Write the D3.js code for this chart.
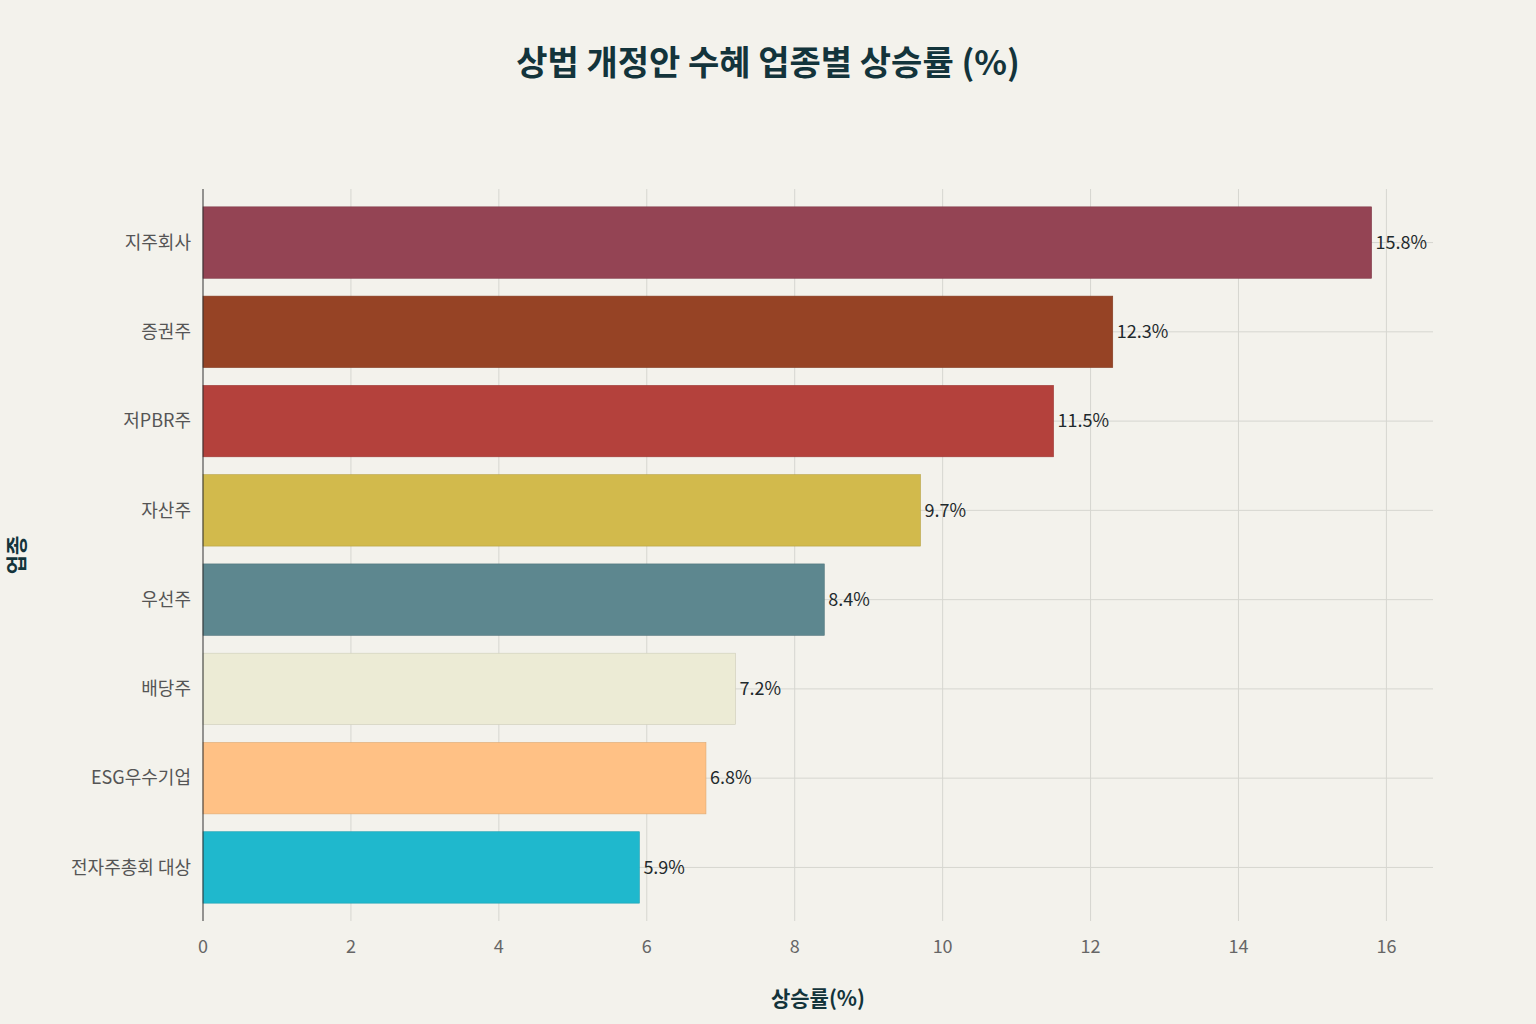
<!DOCTYPE html>
<html>
<head>
<meta charset="utf-8">
<script src="https://cdn.jsdelivr.net/npm/d3@7"></script>
<style>
  body { margin: 0; background: #f3f2ec; }
  text { font-family: "Noto Sans CJK KR", "Noto Sans", sans-serif; }
</style>
</head>
<body>
<script>
const width = 1536;
const height = 1024;

// data
const categories = ["지주회사", "증권주", "저PBR주", "자산주", "우선주", "배당주", "ESG우수기업", "전자주총회 대상"];
const values = [15.8, 12.3, 11.5, 9.7, 8.4, 7.2, 6.8, 5.9];
const colors = ["#944454", "#964325", "#b4413c", "#d2ba4c", "#5d878f", "#ecebd5", "#ffc185", "#1fb8cd"];
const xTicks = [0, 2, 4, 6, 8, 10, 12, 14, 16];

const data = categories.map((c, i) => ({ cat: c, value: values[i], color: colors[i] }));

const margin = { top: 189, right: 103, bottom: 103, left: 203 };

let svg = d3.select("body").append("svg")
  .attr("width", width)
  .attr("height", height);

svg.append("rect").attr("width", width).attr("height", height).attr("fill", "#f3f2ec");

let x = d3.scaleLinear()
  .domain([0, 16.63])
  .range([margin.left, width - margin.right]);

let y = d3.scaleBand()
  .domain(categories)
  .range([margin.top, height - margin.bottom])
  .padding(0.2);

// gridlines
svg.append("g").selectAll("line.v")
  .data(xTicks.slice(1))
  .join("line")
  .attr("x1", d => x(d)).attr("x2", d => x(d))
  .attr("y1", margin.top).attr("y2", height - margin.bottom)
  .attr("stroke", "#d6d6d0").attr("stroke-width", 1);

svg.append("g").selectAll("line.h")
  .data(categories)
  .join("line")
  .attr("x1", margin.left).attr("x2", width - margin.right)
  .attr("y1", d => y(d) + y.bandwidth() / 2).attr("y2", d => y(d) + y.bandwidth() / 2)
  .attr("stroke", "#d6d6d0").attr("stroke-width", 1);

// bars
svg.append("g").selectAll("rect")
  .data(data)
  .join("rect")
  .attr("x", x(0))
  .attr("y", d => y(d.cat))
  .attr("width", d => x(d.value) - x(0))
  .attr("height", y.bandwidth())
  .attr("fill", d => d.color)
  .attr("stroke", d => d3.color(d.color).darker(0.4))
  .attr("stroke-width", 0.6);

// value labels
svg.append("g").selectAll("text")
  .data(data)
  .join("text")
  .attr("x", d => x(d.value) + 4)
  .attr("y", d => y(d.cat) + y.bandwidth() / 2)
  .attr("dy", "0.35em")
  .attr("font-size", 18)
  .attr("fill", "#1f2a2c")
  .text(d => d.value.toFixed(1) + "%");

// y axis line
svg.append("line")
  .attr("x1", margin.left).attr("x2", margin.left)
  .attr("y1", margin.top).attr("y2", height - margin.bottom)
  .attr("stroke", "#333").attr("stroke-width", 1);

// y labels
svg.append("g").selectAll("text")
  .data(categories)
  .join("text")
  .attr("x", margin.left - 12)
  .attr("y", d => y(d) + y.bandwidth() / 2)
  .attr("dy", "0.35em")
  .attr("text-anchor", "end")
  .attr("font-size", 18)
  .attr("fill", "#555")
  .text(d => d);

// x tick labels
svg.append("g").selectAll("text")
  .data(xTicks)
  .join("text")
  .attr("x", d => x(d))
  .attr("y", 953)
  .attr("text-anchor", "middle")
  .attr("font-size", 18)
  .attr("fill", "#666")
  .text(d => d);

// titles
svg.append("text")
  .attr("x", 768).attr("y", 75)
  .attr("text-anchor", "middle")
  .attr("font-size", 34).attr("font-weight", "bold")
  .attr("fill", "#13343b")
  .text("상법 개정안 수혜 업종별 상승률 (%)");

svg.append("text")
  .attr("x", 818).attr("y", 1006)
  .attr("text-anchor", "middle")
  .attr("font-size", 21).attr("font-weight", "bold")
  .attr("fill", "#13343b")
  .text("상승률(%)");

svg.append("text")
  .attr("transform", "translate(24, 555) rotate(-90)")
  .attr("text-anchor", "middle")
  .attr("font-size", 21).attr("font-weight", "bold")
  .attr("fill", "#13343b")
  .text("업종");
</script>
</body>
</html>
